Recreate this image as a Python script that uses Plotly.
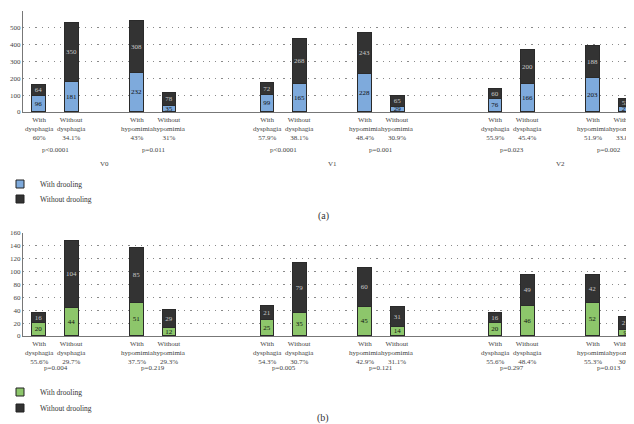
import plotly.graph_objects as go

VISITS = ["V0", "V1", "V2"]
GROUPS = ["With<br>dysphagia", "Without<br>dysphagia", "With<br>hypomimia", "Without<br>hypomimia"]

# panel (a)
A_WITH = [96, 181, 232, 35, 99, 165, 228, 29, 76, 166, 203, 27]
A_WITHOUT = [64, 350, 308, 78, 72, 268, 243, 65, 60, 200, 188, 53]
A_PCT = ["60%", "34.1%", "43%", "31%", "57.9%", "38.1%", "48.4%", "30.9%",
         "55.9%", "45.4%", "51.9%", "33.8%"]
A_P = ["p<0.0001", "p=0.011", "p<0.0001", "p=0.001", "p=0.023", "p=0.002"]

# panel (b)
B_WITH = [20, 44, 51, 12, 25, 35, 45, 14, 20, 46, 52, 9]
B_WITHOUT = [16, 104, 85, 29, 21, 79, 60, 31, 16, 49, 42, 21]
B_PCT = ["55.6%", "29.7%", "37.5%", "29.3%", "54.3%", "30.7%", "42.9%", "31.1%",
         "55.6%", "48.4%", "55.3%", "30%"]
B_P = ["p=0.004", "p=0.219", "p=0.005", "p=0.121", "p=0.297", "p=0.013"]

BLUE = "#7eaadc"
GREEN = "#8dc66b"
DARK = "#333333"
FONT = "Liberation Serif"
W, H = 634, 424


def px_x(x):
    return x / W


def px_y(y):
    return 1 - y / H


# category slots with blank gaps between pairs and visits
cats, bars = [], []
n_gap = 0
for vi, v in enumerate(VISITS):
    for gi in range(len(GROUPS)):
        if gi == 2:
            cats.append(f"gap{n_gap}")
            n_gap += 1
        cats.append(f"{v} {gi}")
        bars.append(f"{v} {gi}")
    if vi < len(VISITS) - 1:
        for _ in range(2):
            cats.append(f"gap{n_gap}")
            n_gap += 1

fig = go.Figure()


def add_panel(with_vals, without_vals, color, xa, ya, legends):
    fig.add_trace(go.Bar(
        x=bars, y=with_vals, text=with_vals, marker=dict(color=color, line=dict(color="#2a2a2a", width=1)),
        textposition="inside", insidetextanchor="middle", constraintext="none", textangle=0,
        textfont=dict(color="#111111", size=7, family=FONT), width=0.42,
        xaxis=xa, yaxis=ya, showlegend=False, hoverinfo="skip"
    ))
    fig.add_trace(go.Bar(
        x=bars, y=without_vals, text=without_vals, marker=dict(color=DARK, line=dict(color="#2a2a2a", width=1)),
        textposition="inside", insidetextanchor="middle", constraintext="none", textangle=0,
        textfont=dict(color="#c8c8c8", size=7, family=FONT), width=0.42,
        xaxis=xa, yaxis=ya, showlegend=False, hoverinfo="skip"
    ))
    for name, c, lg in [("With drooling", color, legends[0]), ("Without drooling", DARK, legends[1])]:
        fig.add_trace(go.Scatter(
            x=[None], y=[None], mode="markers", name=name, legend=lg,
            marker=dict(symbol="square", size=8, color=c, line=dict(color="#222", width=1)),
            xaxis=xa, yaxis=ya
        ))


add_panel(A_WITH, A_WITHOUT, BLUE, "x", "y", ["legend", "legend2"])
add_panel(B_WITH, B_WITHOUT, GREEN, "x2", "y2", ["legend3", "legend4"])

tickfont = dict(family=FONT, size=7, color="#444")
for xa, ya, dom, yr, dt in [
    ("xaxis", "yaxis", [px_y(104), px_y(3)], [0, 600], 100),
    ("xaxis2", "yaxis2", [px_y(328), px_y(225)], [0, 160], 20),
]:
    fig.update_layout({
        xa: dict(domain=[px_x(15), 1], type="category", categoryarray=cats, categoryorder="array",
                 range=[-0.5, len(cats) - 0.5], showticklabels=False,
                 showgrid=False, showline=True, linecolor="#777", linewidth=1, ticks="",
                 automargin=False, anchor=ya.replace("axis", "")),
        ya: dict(domain=dom, range=yr, dtick=dt, showgrid=True, gridcolor="#8a8a8a", griddash="1.2px,5px",
                 gridwidth=1.2, showline=True, linecolor="#777", linewidth=1, ticks="",
                 tickfont=tickfont, zeroline=False, automargin=False, anchor=xa.replace("axis", "")),
    })

annot_font = dict(family=FONT, size=7, color="#444")
annotations = []
for pct, plist, xref, y_lab, y_p in [(A_PCT, A_P, "x", 121, 142), (B_PCT, B_P, "x2", 345, 366)]:
    # category labels under each bar
    for i, p in enumerate(pct):
        annotations.append(dict(x=bars[i], y=px_y(y_lab), xref=xref, yref="paper",
                                text=f"{GROUPS[i % 4]}<br>{p}", showarrow=False,
                                yanchor="middle", font=annot_font))
    # p-values between each pair
    for i, p in enumerate(plist):
        idx = cats.index(bars[2 * i])
        annotations.append(dict(x=idx + 0.5, y=px_y(y_p), xref=xref, yref="paper", text=p,
                                showarrow=False, font=annot_font))
for vi, v in enumerate(VISITS):
    i0 = cats.index(bars[4 * vi])
    i1 = cats.index(bars[4 * vi + 3])
    annotations.append(dict(x=(i0 + i1) / 2, y=px_y(156), xref="x", yref="paper", text=v,
                            showarrow=False, font=annot_font))
for lab, yp in [("(a)", 208), ("(b)", 418)]:
    annotations.append(dict(x=px_x(315), y=px_y(yp), xref="paper", yref="paper", text=lab,
                            showarrow=False, font=dict(family=FONT, size=10, color="#333")))

legend_style = dict(x=-8 / W, xanchor="left", yanchor="middle", bgcolor="rgba(0,0,0,0)",
                    font=dict(family=FONT, size=7.5, color="#333"), itemwidth=30)
fig.update_layout(
    width=W, height=H, barmode="stack", bargap=0,
    margin=dict(l=0, r=0, t=0, b=0, autoexpand=False),
    plot_bgcolor="white", paper_bgcolor="white",
    annotations=annotations,
    legend=dict(y=px_y(176), **legend_style),
    legend2=dict(y=px_y(191), **legend_style),
    legend3=dict(y=px_y(384), **legend_style),
    legend4=dict(y=px_y(400), **legend_style),
)

fig.write_html("out.html")
